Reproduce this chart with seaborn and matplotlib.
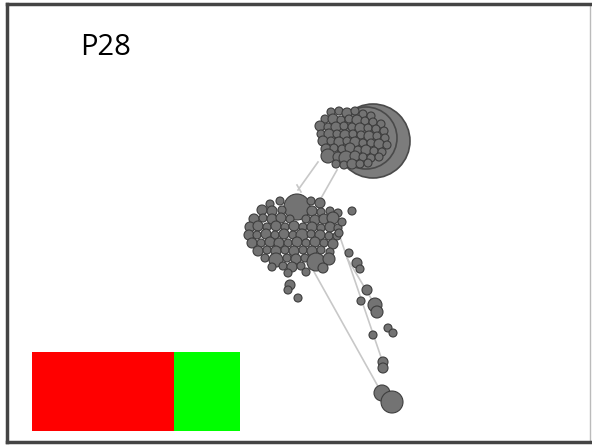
import pandas as pd
import seaborn as sns
import matplotlib.pyplot as plt

# node positions (pixel-like layout coords) and radii
# top cluster - large shells behind
shell_x = [373, 366]
shell_y = [141, 138]
shell_r = [37, 31]

top_x = [331, 339, 347, 355, 363, 371,
         325, 333, 341, 349, 357, 365, 373, 381,
         320, 328, 336, 344, 352, 360, 368, 376, 384,
         321, 329, 337, 345, 353, 361, 369, 377, 385,
         323, 331, 339, 347, 355, 363, 371, 379, 387,
         326, 334, 342, 350, 358, 366, 374, 382,
         328, 338, 346, 355, 363, 371, 379,
         336, 344, 352, 360, 368]
top_y = [112, 111, 113, 111, 114, 116,
         119, 119, 120, 119, 120, 121, 122, 124,
         126, 127, 127, 126, 127, 128, 128, 129, 131,
         134, 134, 134, 135, 134, 135, 136, 136, 138,
         141, 141, 142, 141, 142, 143, 143, 144, 145,
         149, 148, 149, 148, 150, 150, 151, 152,
         156, 157, 158, 156, 157, 158, 157,
         164, 165, 164, 164, 163]
top_r = [4, 4, 5, 4, 4, 4,
         4, 5, 4, 4, 5, 4, 4, 4,
         5, 4, 5, 4, 4, 5, 4, 4, 4,
         4, 5, 4, 5, 4, 4, 5, 4, 4,
         5, 4, 5, 4, 5, 4, 4, 5, 4,
         5, 4, 4, 5, 4, 5, 4, 4,
         7, 5, 7, 5, 4, 4, 4,
         4, 4, 5, 4, 4]

# middle cluster
mid_x = [297,
         270, 280, 311, 320,
         262, 272, 282, 312, 321, 330, 338,
         254, 263, 272, 281, 290, 306, 315, 324, 333,
         250, 258, 267, 276, 285, 294, 303, 312, 321, 330, 338,
         249, 257, 266, 275, 284, 293, 302, 311, 320, 329, 337,
         252, 261, 270, 279, 288, 297, 306, 315, 324, 333,
         258, 267, 276, 285, 294, 303, 312, 321, 330,
         265, 276, 287, 296, 305, 316, 329,
         272, 283, 292, 301, 323,
         288, 306, 342]
mid_y = [207,
         204, 201, 201, 203,
         210, 211, 210, 211, 212, 211, 213,
         219, 218, 219, 218, 219, 219, 220, 219, 218,
         227, 226, 227, 226, 227, 226, 227, 227, 228, 227, 228,
         235, 235, 234, 235, 234, 235, 235, 234, 235, 236, 236,
         243, 243, 242, 243, 243, 242, 243, 242, 243, 244,
         251, 250, 251, 250, 251, 250, 251, 250, 252,
         258, 260, 258, 259, 258, 262, 259,
         267, 266, 267, 266, 268,
         273, 272, 222]
mid_r = [13,
         4, 4, 4, 5,
         5, 5, 4, 5, 4, 4, 4,
         5, 4, 5, 5, 4, 4, 5, 5, 6,
         5, 5, 4, 5, 4, 5, 4, 5, 4, 5, 4,
         5, 4, 5, 4, 5, 4, 6, 4, 5, 4, 4,
         5, 4, 5, 5, 4, 5, 4, 5, 4, 5,
         5, 4, 5, 4, 5, 4, 5, 4, 4,
         4, 7, 4, 5, 4, 9, 6,
         4, 4, 5, 4, 5,
         4, 4, 4]

# trail of small nodes below
trail_x = [352, 339, 349, 357, 360, 367, 375, 377, 361, 388, 393, 373, 383, 383, 382, 392, 290, 288, 298]
trail_y = [211, 233, 253, 263, 269, 290, 305, 312, 301, 328, 333, 335, 362, 368, 393, 402, 285, 290, 298]
trail_r = [4, 4, 4, 5, 4, 5, 7, 6, 4, 4, 4, 4, 5, 5, 8, 11, 5, 4, 4]

# edges
edge_x0 = [318, 337, 313, 340, 347, 297]
edge_y0 = [162, 170, 270, 237, 258, 185]
edge_x1 = [298, 320, 380, 382, 375, 301]
edge_y1 = [190, 200, 390, 360, 305, 192]

# bar segments (lengths)
bar_start = 32
red_len = 142
green_len = 66

W, H = 592, 446
fig = plt.figure(figsize=(W / 100, H / 100), dpi=100)
ax = fig.add_axes([7 / W, 1 - 442 / H, 583 / W, 438 / H])
ax.set_xlim(7, 590)
ax.set_ylim(442, 4)
ax.set_xticks([])
ax.set_yticks([])

for s in ['left', 'top', 'bottom']:
    ax.spines[s].set_color('#444444')
    ax.spines[s].set_linewidth(2.5)
ax.spines['right'].set_color('#bbbbbb')
ax.spines['right'].set_linewidth(1)


def sz(rs):
    # radius in px -> marker area in pt^2
    return [(2 * r * 0.72) ** 2 for r in rs]


for a, b, c, d in zip(edge_x0, edge_y0, edge_x1, edge_y1):
    ax.plot([a, c], [b, d], color='#c8c8c8', lw=1.2, zorder=1)

sns.scatterplot(x=shell_x, y=shell_y, s=sz(shell_r), color='#7c7c7c',
                edgecolor='#4a4a4a', linewidth=1.2, legend=False, ax=ax, zorder=2)

for xs, ys, rs in [(top_x, top_y, top_r), (mid_x, mid_y, mid_r), (trail_x, trail_y, trail_r)]:
    df = pd.DataFrame({'x': xs, 'y': ys, 's': sz(rs)})
    sns.scatterplot(data=df, x='x', y='y', s=df['s'].values, color='#737373',
                    edgecolor='#3e3e3e', linewidth=0.8, legend=False, ax=ax, zorder=3)

ax.barh(391, red_len, left=bar_start, height=79, color='#ff0000', zorder=4)
ax.barh(391, green_len, left=bar_start + red_len, height=79, color='#00ff00', zorder=4)

ax.text(80, 47, 'P28', fontsize=21, family='Open Sans', va='center', ha='left', color='#000000')
ax.set_xlabel('')
ax.set_ylabel('')

fig.savefig('out.png', dpi=100)
